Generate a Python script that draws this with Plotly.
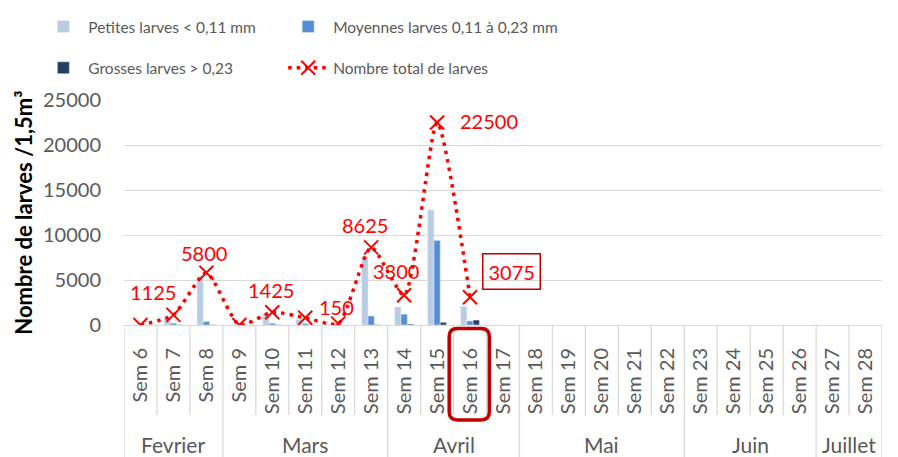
import plotly.graph_objects as go

# ---------------- data ----------------
weeks = ["Sem 6", "Sem 7", "Sem 8", "Sem 9", "Sem 10", "Sem 11", "Sem 12", "Sem 13",
         "Sem 14", "Sem 15", "Sem 16", "Sem 17", "Sem 18", "Sem 19", "Sem 20", "Sem 21",
         "Sem 22", "Sem 23", "Sem 24", "Sem 25", "Sem 26", "Sem 27", "Sem 28"]
months = ["Fevrier", "Mars", "Avril", "Mai", "Juin", "Juillet"]
weeks_per_month = [3, 5, 4, 5, 4, 2]

petites = [0, 900, 5400, 0, 1200, 600, 100, 7600, 2000, 12800, 2075] + [None] * 12
moyennes = [0, 200, 375, 0, 200, 175, 50, 1000, 1200, 9400, 450] + [None] * 12
grosses = [0, 25, 25, 0, 25, 25, 0, 25, 100, 300, 550] + [None] * 12
total = [0, 1125, 5800, 0, 1425, 800, 150, 8625, 3300, 22500, 3075] + [None] * 12

labelled = ["Sem 7", "Sem 8", "Sem 10", "Sem 12", "Sem 13", "Sem 14", "Sem 15", "Sem 16"]

# ---------------- styles / layout helpers ----------------
label_offsets = {  # (xshift, yshift) in px
    "Sem 7": (-20, 23), "Sem 8": (-2, 20), "Sem 10": (-1, 22), "Sem 12": (-2, 17),
    "Sem 13": (-6, 22), "Sem 14": (-8, 24), "Sem 15": (52, 2), "Sem 16": (41, 26),
}
GRAY = "#595959"
GRID = "#D9D9D9"
FONT = "Lato"

fig = go.Figure()
fig.add_trace(go.Bar(x=weeks, y=petites, name="Petites larves < 0,11 mm",
                     marker_color="#B8CCE4", legend="legend", legendgroup="a"))
fig.add_trace(go.Bar(x=weeks, y=moyennes, name="Moyennes larves 0,11 à 0,23 mm",
                     marker_color="#558ED5", legend="legend2", legendgroup="b"))
fig.add_trace(go.Bar(x=weeks, y=grosses, name="Grosses larves > 0,23",
                     marker_color="#254061", legend="legend", legendgroup="c"))
fig.add_trace(go.Scatter(x=weeks, y=total, name="Nombre total de larves",
                         mode="lines+markers",
                         line=dict(color="#FF0000", width=3.5, dash="3.5px,5px",
                                   shape="spline", smoothing=0.6),
                         marker=dict(symbol="x-thin", size=14, line=dict(color="#FF0000", width=2)),
                         legend="legend2", legendgroup="d"))

annotations = []
for w, v in zip(weeks, total):
    if w in labelled:
        dx, dy = label_offsets[w]
        boxed = (w == "Sem 16")
        annotations.append(dict(
            x=w, y=v, xref="x", yref="y", text=str(v), showarrow=False,
            xshift=dx, yshift=dy, font=dict(family=FONT, size=20, color="#FF0000"),
            bordercolor="#C00000" if boxed else None, borderwidth=1.5 if boxed else 0,
            borderpad=5 if boxed else 0))

shapes = []
n = len(weeks)
month_bounds = [-0.5]
for k in weeks_per_month:
    month_bounds.append(month_bounds[-1] + k)
start = 0
for m, k in zip(months, weeks_per_month):
    annotations.append(dict(x=start + (k - 1) / 2, y=-0.533, xref="x", yref="paper",
                            yanchor="middle", text=m, showarrow=False,
                            font=dict(family=FONT, size=21, color=GRAY)))
    start += k
for b in range(n + 1):
    xb = b - 0.5
    long_line = xb in month_bounds
    shapes.append(dict(type="line", xref="x", yref="paper", x0=xb, x1=xb,
                       y0=0, y1=-0.62 if long_line else -0.4,
                       line=dict(color=GRID, width=1.3), layer="below"))

# rounded highlight around "Sem 16" label (paper coords)
x0, x1 = 0.429, 0.482
y0, y1 = -0.422, -0.015
rx, ry = 0.011, 0.036
path = (f"M{x0+rx},{y1} L{x1-rx},{y1} Q{x1},{y1} {x1},{y1-ry} L{x1},{y0+ry} "
        f"Q{x1},{y0} {x1-rx},{y0} L{x0+rx},{y0} Q{x0},{y0} {x0},{y0+ry} "
        f"L{x0},{y1-ry} Q{x0},{y1} {x0+rx},{y1} Z")
shapes.append(dict(type="path", xref="paper", yref="paper", path=path,
                   line=dict(color="#C00000", width=3.5)))

legend_common = dict(yanchor="top", xanchor="left",
                     font=dict(family=FONT, size=15.5, color=GRAY),
                     traceorder="grouped", tracegroupgap=18, itemwidth=40,
                     bgcolor="rgba(0,0,0,0)")

# page body has an 8px default margin: offsets compensate so the plot sits at 124..882 / 100..325
fig.update_layout(
    width=898, height=457,
    margin=dict(l=116, r=24, t=92, b=140, autoexpand=False),
    paper_bgcolor="white", plot_bgcolor="white",
    barmode="group", bargap=0.43, bargroupgap=0,
    font=dict(family=FONT, color=GRAY),
    showlegend=True,
    legend=dict(x=-0.113, y=1.40, **legend_common),
    legend2=dict(x=0.21, y=1.40, **legend_common),
    xaxis=dict(type="category", range=[-0.5, n - 0.5], tickangle=-90,
               tickfont=dict(family=FONT, size=20, color=GRAY),
               showgrid=False, showline=False, ticks="", ticklabelstandoff=18),
    yaxis=dict(range=[0, 25000], dtick=5000, tickformat="d",
               showgrid=True, gridcolor=GRID, gridwidth=1.3,
               zeroline=True, zerolinecolor=GRID, zerolinewidth=1.3,
               tickfont=dict(family=FONT, size=20, color=GRAY), ticks="",
               ticklabelstandoff=22,
               title=dict(text="<b>Nombre de larves /1,5m³</b>", standoff=4,
                          font=dict(family=FONT, size=22, color="#000000"))),
    annotations=annotations,
    shapes=shapes,
)

fig.write_html("out.html")
